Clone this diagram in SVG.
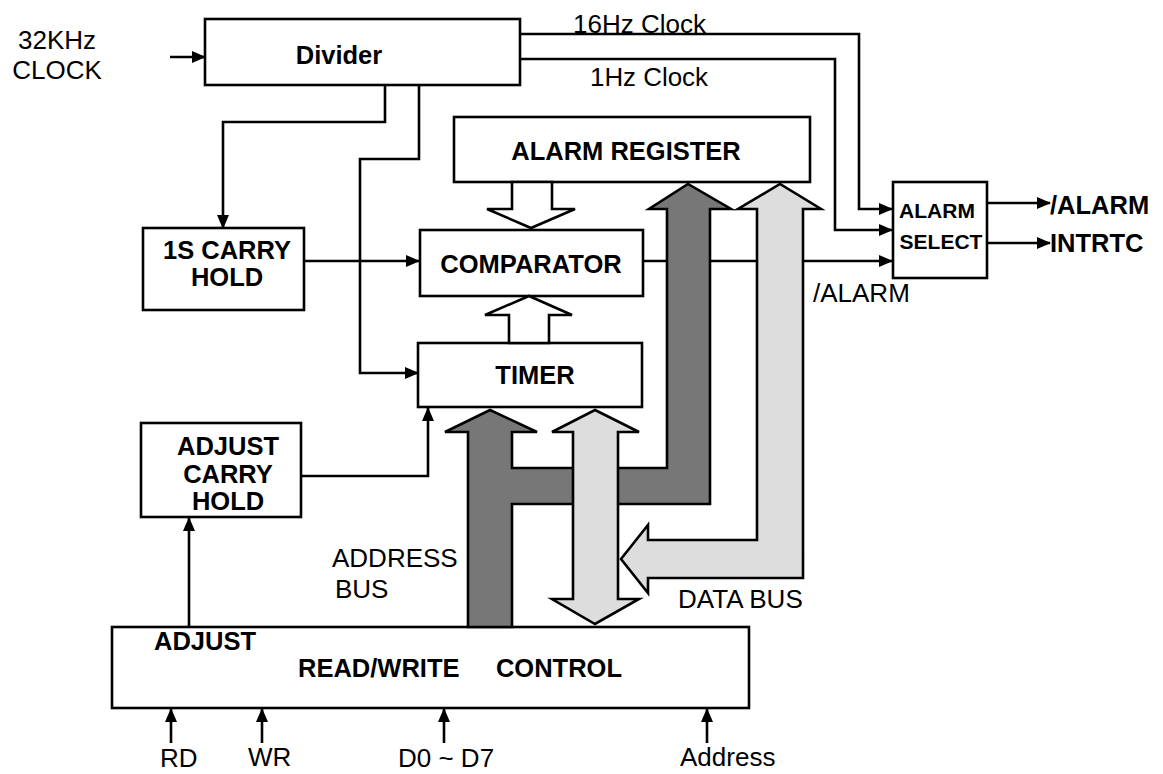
<svg xmlns="http://www.w3.org/2000/svg" width="1163" height="774" viewBox="0 0 1163 774">
<defs>
<marker id="ah" markerUnits="userSpaceOnUse" markerWidth="14" markerHeight="14" viewBox="0 0 14 14" refX="13" refY="7" orient="auto">
<path d="M0,1 L14,7 L0,13 Z" fill="#000"/>
</marker>
</defs>
<style>
.box{fill:#fff;stroke:#000;stroke-width:2.6}
.ln{fill:none;stroke:#000;stroke-width:2.6}
.ar{marker-end:url(#ah)}
.b{font-family:"Liberation Sans",Arial,sans-serif;font-weight:bold;font-size:25.5px;fill:#000}
.s{font-family:"Liberation Sans",Arial,sans-serif;font-weight:bold;font-size:21px;fill:#000}
.r{font-family:"Liberation Sans",Arial,sans-serif;font-size:26px;fill:#000}
.dark{fill:#777;stroke:#000;stroke-width:2.6;stroke-linejoin:miter}
.light{fill:#ddd;stroke:#000;stroke-width:2.6;stroke-linejoin:miter}
.hol{fill:#fff;stroke:#000;stroke-width:2.6}
</style>
<rect width="1163" height="774" fill="#fff"/>

<g id="connectors">
<path class="ln ar" d="M170,57 H205"/>
<path class="ln ar" d="M385,85 V122 H223 V228"/>
<path class="ln ar" d="M419,85 V159 H360 V373 H418"/>
<path class="ln ar" d="M520,34 H859 V209 H892"/>
<path class="ln ar" d="M520,59 H835 V230 H892"/>
<path class="ln ar" d="M643,261 H892"/>
<path class="ln ar" d="M304,261 H419"/>
<path class="ln ar" d="M301,476 H428 V408"/>
<path class="ln ar" d="M189,627 V518"/>
<path class="ln ar" d="M987,203 H1050"/>
<path class="ln ar" d="M987,243 H1050"/>
<path class="ln ar" d="M171,743 V709"/>
<path class="ln ar" d="M262,743 V709"/>
<path class="ln ar" d="M444,743 V709"/>
<path class="ln ar" d="M707,743 V709"/>
</g>

<g id="clock-in">
<text class="r" x="57" y="49" text-anchor="middle">32KHz</text>
<text class="r" x="57" y="79" text-anchor="middle">CLOCK</text>
</g>

<g id="clock-labels">
<text class="r" x="573" y="33" font-size="27" textLength="133" lengthAdjust="spacingAndGlyphs">16Hz Clock</text>
<text class="r" x="590" y="86" font-size="27" textLength="118" lengthAdjust="spacingAndGlyphs">1Hz Clock</text>
</g>

<g id="divider">
<rect class="box" x="205" y="19" width="315" height="66"/>
<text class="b" x="339" y="64" text-anchor="middle">Divider</text>
</g>

<g id="alarm-register">
<rect class="box" x="454" y="117" width="356" height="65"/>
<text class="b" x="626" y="160" text-anchor="middle">ALARM REGISTER</text>
</g>

<g id="comparator">
<rect class="box" x="420" y="230" width="223" height="66"/>
<text class="b" x="531" y="273" text-anchor="middle">COMPARATOR</text>
</g>

<g id="timer">
<rect class="box" x="418" y="343" width="224" height="64"/>
<text class="b" x="535" y="384" text-anchor="middle">TIMER</text>
</g>

<g id="carry-hold">
<rect class="box" x="143" y="228" width="161" height="82"/>
<text class="b" x="227" y="259" text-anchor="middle">1S CARRY</text>
<text class="b" x="227" y="286" text-anchor="middle">HOLD</text>
</g>

<g id="adjust-carry-hold">
<rect class="box" x="141" y="423" width="160" height="94"/>
<text class="b" x="228" y="455" text-anchor="middle">ADJUST</text>
<text class="b" x="228" y="483" text-anchor="middle">CARRY</text>
<text class="b" x="228" y="510" text-anchor="middle">HOLD</text>
</g>

<g id="alarm-select">
<rect class="box" x="893" y="182" width="94" height="96"/>
<text class="s" x="937" y="218" text-anchor="middle">ALARM</text>
<text class="s" x="941" y="249" text-anchor="middle">SELECT</text>
</g>

<g id="outputs">
<text class="b" x="1050" y="214">/ALARM</text>
<text class="b" x="1050" y="252">INTRTC</text>
<text class="r" x="813" y="302">/ALARM</text>
</g>

<g id="rw-control">
<rect class="box" x="112" y="627" width="637" height="81"/>
<text class="b" x="154" y="650">ADJUST</text>
<text class="b" x="298" y="677">READ/WRITE</text>
<text class="b" x="622" y="677" text-anchor="end">CONTROL</text>
</g>

<g id="inputs">
<text class="r" x="160" y="767">RD</text>
<text class="r" x="248" y="766">WR</text>
<text class="r" x="398" y="767">D0 ~ D7</text>
<text class="r" x="680" y="766">Address</text>
</g>

<g id="hollow-arrows">
<polygon class="hol" points="512,182 512,209 487,209 531,228 575,209 552,209 552,182"/>
<polygon class="hol" points="509,343 509,315 485,315 529,296 572,315 549,315 549,343"/>
</g>

<g id="address-bus">
<polygon class="dark" points="468,627 468,432 445,432 490,410 537,432 512,432 512,468 667,468 667,209 649,209 688,184 731,209 710,209 710,504 512,504 512,627"/>
<text class="r" x="332" y="567">ADDRESS</text>
<text class="r" x="335" y="598">BUS</text>
</g>

<g id="data-bus">
<polygon class="light" points="595,410 639,432 618,432 618,599 639,599 595,624 552,599 573,599 573,432 552,432"/>
<polygon class="light" points="621,559 648,525 648,540 757,540 757,209 738,209 780,184 821,209 803,209 803,578 648,578 648,593"/>
<text class="r" x="678" y="608">DATA BUS</text>
</g>
</svg>
